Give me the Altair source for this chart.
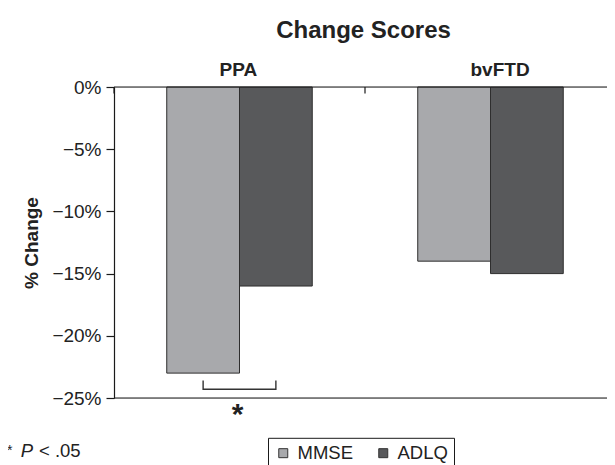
import altair as alt
import pandas as pd

# ---- data ----
groups = ["PPA", "PPA", "bvFTD", "bvFTD"]
measures = ["MMSE", "ADLQ", "MMSE", "ADLQ"]
values = [-23, -16, -14, -15]

group_order = ["PPA", "bvFTD"]
measure_order = ["MMSE", "ADLQ"]
measure_colors = ["#a8a9ac", "#58595b"]
y_ticks = [0, -5, -10, -15, -20, -25]

# significance bracket (PPA: MMSE vs ADLQ)
bracket_measure = ["MMSE", "MMSE", "ADLQ", "ADLQ"]
bracket_value = [-23.6, -24.3, -24.3, -23.6]
bracket_order = [0, 1, 2, 3]
star_value = [-27.1]

FONT = "Liberation Sans"
TXT = "#222222"

bars_df = pd.DataFrame({"group": groups, "measure": measures, "value": values})
frame_df = pd.DataFrame({"value": [0, -25]})
tick_df = pd.DataFrame({"group": group_order, "value": [0, 0], "value2": [-0.53, -0.53]})
bracket_df = pd.DataFrame({"group": ["PPA"] * 4, "measure": bracket_measure,
                           "value": bracket_value, "o": bracket_order})
star_df = pd.DataFrame({"group": ["PPA"], "value": star_value, "t": ["*"]})

x_scale = alt.Scale(domain=group_order, range=[0, 502], paddingInner=0, paddingOuter=0)
xo_scale = alt.Scale(domain=measure_order, paddingInner=0, paddingOuter=0.725)
y_scale = alt.Scale(domain=[-25, 0], nice=False, zero=False)

x_axis = alt.Axis(orient="top", title=None, domain=False, ticks=False, tickSize=0,
                  labelAngle=0,
                  labelFont=FONT, labelFontSize=19, labelFontWeight="bold",
                  labelColor=TXT, labelAlign="left", labelOffset=-20,
                  labelPadding=12, labelBaseline="alphabetic", grid=False)
y_axis = alt.Axis(values=y_ticks, title="% Change", grid=False,
                  labelExpr="datum.value == 0 ? '0%' : '\u2212' + abs(datum.value) + '%'",
                  labelFont=FONT, labelFontSize=19, labelColor=TXT, labelPadding=5,
                  tickSize=8, tickColor="#1a1a1a", tickWidth=1.2,
                  domainColor="#1a1a1a", domainWidth=1.2,
                  titleFont=FONT, titleFontSize=19, titleFontWeight="bold",
                  titleColor=TXT, titleX=-77, titleY=155.5, titleAngle=270,
                  titleBaseline="alphabetic", titleAlign="center")

X = alt.X("group:N", scale=x_scale, axis=x_axis, sort=group_order)
Y = alt.Y("value:Q", scale=y_scale, axis=y_axis)

bars = alt.Chart(bars_df).mark_bar(stroke="#2e2e2e", strokeWidth=1).encode(
    x=X,
    xOffset=alt.XOffset("measure:N", scale=xo_scale, sort=measure_order),
    y=Y,
    color=alt.Color("measure:N", sort=measure_order,
                    scale=alt.Scale(domain=measure_order, range=measure_colors),
                    legend=alt.Legend(title=None, orient="none", legendX=154, legendY=350.8,
                                      direction="horizontal", strokeColor="#1a1a1a",
                                      fillColor="white", padding=6, symbolType="square",
                                      symbolSize=81, symbolStrokeColor="#333333",
                                      symbolStrokeWidth=1, labelFont=FONT,
                                      labelFontSize=18.5, labelColor=TXT, labelOffset=5,
                                      columnPadding=21, cornerRadius=0)),
)

frame = alt.Chart(frame_df).mark_rule(color="#1a1a1a", strokeWidth=1.2).encode(y=Y)

ticks = alt.Chart(tick_df).mark_rule(color="#1a1a1a", strokeWidth=1.2).encode(
    x=alt.X("group:N", scale=x_scale, axis=x_axis, sort=group_order, bandPosition=0),
    y=Y,
    y2="value2:Q",
)

bracket = alt.Chart(bracket_df).mark_line(color="#333333", strokeWidth=1.4).encode(
    x=X,
    xOffset=alt.XOffset("measure:N", scale=xo_scale, sort=measure_order),
    y=Y,
    order="o:Q",
)

star = alt.Chart(star_df).mark_text(font=FONT, fontSize=30, fontWeight="bold",
                                     color=TXT, baseline="alphabetic", dx=-2).encode(
    x=X, y=Y, text="t:N")

foot_star = alt.Chart(pd.DataFrame({"t": ["*"]})).mark_text(
    font=FONT, fontSize=14, color=TXT, align="left", baseline="alphabetic").encode(
    x=alt.value(-107), y=alt.value(368), text="t:N")
foot_p = alt.Chart(pd.DataFrame({"t": ["P"]})).mark_text(
    font=FONT, fontSize=18.5, fontStyle="italic", color=TXT, align="left",
    baseline="alphabetic").encode(x=alt.value(-93.3), y=alt.value(370), text="t:N")
foot_rest = alt.Chart(pd.DataFrame({"t": ["< .05"]})).mark_text(
    font=FONT, fontSize=18.5, color=TXT, align="left", baseline="alphabetic").encode(
    x=alt.value(-75), y=alt.value(370), text="t:N")

chart = alt.layer(bars, frame, ticks, bracket, star, foot_star, foot_p, foot_rest).properties(
    width=493,
    height=311,
    padding={"left": 106, "top": 79, "right": 0, "bottom": 67},
    autosize=alt.AutoSizeParams(type="none"),
    title=alt.TitleParams("Change Scores", font=FONT, fontSize=24, fontWeight="bold",
                          color=TXT, anchor="middle", frame="group", offset=17, dx=3),
).configure_view(stroke=None).configure(font=FONT)

chart.save("out.html", embed_options={"renderer": "svg", "actions": False})
